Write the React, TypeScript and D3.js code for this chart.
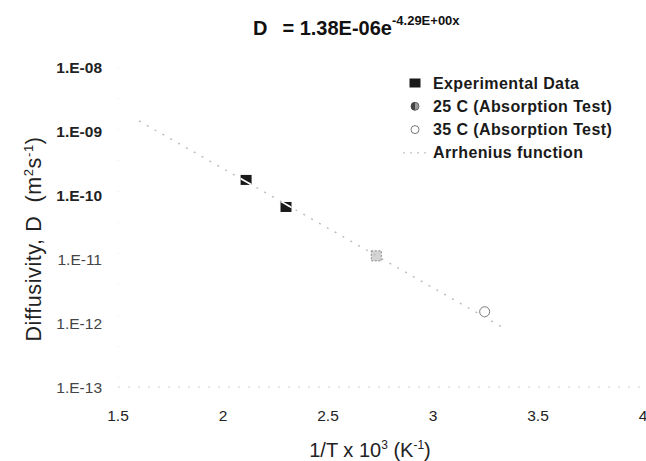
import React from 'react'
import * as d3 from 'd3'

// values
const experimentalX = [2.11, 2.3]
const experimentalD = [1.72e-10, 6.5e-11]
const absorption25X = [2.73]
const absorption25D = [1.12e-11]
const absorption35X = [3.246]
const absorption35D = [1.5e-12]
const arrheniusX = [1.6, 3.35]
const arrheniusD = [1.44e-9, 7.9e-13]

const xTicks = [1.5, 2, 2.5, 3, 3.5, 4]
const yTicks = [1e-8, 1e-9, 1e-10, 1e-11, 1e-12, 1e-13]
const yTickLabels = ['1.E-08', '1.E-09', '1.E-10', '1.E-11', '1.E-12', '1.E-13']
const legendLabels = ['Experimental Data', '25 C (Absorption Test)', '35 C (Absorption Test)', 'Arrhenius function']

const width = 646
const height = 461
const font = 'Arial, "Liberation Sans", sans-serif'

export default function App() {
  const xScale = d3.scaleLinear().domain([1.5, 4]).range([118, 643])
  const yScale = d3.scaleLog().domain([1e-13, 1e-8]).range([387, 67])

  const line = d3.line<[number, number]>()
    .x(d => xScale(d[0]))
    .y(d => yScale(d[1]))
  const arrhenius = arrheniusX.map((x, i) => [x, arrheniusD[i]] as [number, number])

  const legendX = 415
  const legendY = 83
  const legendStep = 23.3

  return (
    <svg width={width} height={height} style={{ position: 'absolute', left: 0, top: 0, background: '#fff' }}
      fontFamily={font}>
      {/* title */}
      <text x={253} y={35} fontSize={20} fontWeight='bold' fill='#111'>
        D<tspan dx={15}>= 1.38E-06e</tspan><tspan fontSize={13} dy={-10}>-4.29E+00x</tspan>
      </text>

      {/* faint axes */}
      <line x1={xScale(1.5)} x2={xScale(4)} y1={yScale(1e-13)} y2={yScale(1e-13)}
        stroke='#d0d0d0' strokeWidth={1} strokeDasharray='2,8' />
      <line x1={xScale(1.5)} x2={xScale(1.5)} y1={yScale(1e-8)} y2={yScale(1e-13)}
        stroke='#e6e6e6' strokeWidth={1} strokeDasharray='1,30' />

      {/* y ticks */}
      {yTicks.map((t, i) => (
        <text key={t} x={102} y={yScale(t) + 5.5} textAnchor='end' fontSize={15.5}
          fontWeight={i < 3 ? 'bold' : 'normal'} fill={i < 3 ? '#222' : '#444'}>
          {yTickLabels[i]}
        </text>
      ))}
      {/* x ticks */}
      {xTicks.map(t => (
        <text key={t} x={xScale(t)} y={420.5} textAnchor='middle' fontSize={15.5} fill='#222'>
          {t}
        </text>
      ))}

      {/* axis titles */}
      <text transform={`translate(41,${239}) rotate(-90)`} textAnchor='middle' fontSize={21.5} fill='#222'
        letterSpacing={0.6} style={{ whiteSpace: 'pre' }}>
        {'Diffusivity, D  (m'}<tspan fontSize={13} dy={-8}>2</tspan><tspan dy={8}>s</tspan><tspan fontSize={13} dy={-8}>-1</tspan><tspan dy={8}>)</tspan>
      </text>
      <text x={370} y={457} textAnchor='middle' fontSize={20} fill='#222'>
        1/T x 10<tspan fontSize={12} dy={-8}>3</tspan><tspan dy={8}> (K</tspan><tspan fontSize={12} dy={-8}>-1</tspan><tspan dy={8}>)</tspan>
      </text>

      {/* markers */}
      {experimentalX.map((x, i) => (
        <rect key={i} x={xScale(x) - 5.5} y={yScale(experimentalD[i]) - 5} width={11} height={10} fill='#1a1a1a' />
      ))}
      {absorption25X.map((x, i) => (
        <rect key={i} x={xScale(x) - 5} y={yScale(absorption25D[i]) - 5} width={10} height={10}
          fill='#d4d4d4' stroke='#8a8a8a' strokeWidth={1} strokeDasharray='2,1.5' />
      ))}
      {absorption35X.map((x, i) => (
        <circle key={i} cx={xScale(x)} cy={yScale(absorption35D[i])} r={5} fill='#fff' stroke='#777' strokeWidth={1} />
      ))}

      {/* Arrhenius fit */}
      <path d={line(arrhenius) ?? ''} fill='none' stroke='#bcbcbc' strokeWidth={1.4} strokeDasharray='2,7' />
      <defs>
        <clipPath id='markClip'>
          {experimentalX.map((x, i) => (
            <rect key={i} x={xScale(x) - 5.5} y={yScale(experimentalD[i]) - 5} width={11} height={10} />
          ))}
        </clipPath>
      </defs>
      <path d={line(arrhenius) ?? ''} fill='none' stroke='#fff' strokeWidth={1.6} clipPath='url(#markClip)' />

      {/* legend */}
      <g fontSize={16} fontWeight='bold' fill='#1a1a1a' letterSpacing={0.4}>
        <rect x={legendX - 5.5} y={legendY - 4.5} width={11} height={9} fill='#1a1a1a' />
        <circle cx={legendX} cy={legendY + legendStep} r={4} fill='#999' stroke='#666' />
        <path d={`M${legendX},${legendY + legendStep - 4} A4,4 0 0 0 ${legendX},${legendY + legendStep + 4} Z`} fill='#444' />
        <circle cx={legendX} cy={legendY + 2 * legendStep} r={4} fill='#fff' stroke='#777' />
        <line x1={legendX - 12} x2={legendX + 15} y1={legendY + 3 * legendStep} y2={legendY + 3 * legendStep}
          stroke='#c4c4c4' strokeWidth={1.2} strokeDasharray='2,5' />
        {legendLabels.map((l, i) => (
          <text key={l} x={433} y={legendY + i * legendStep + 5.5}>{l}</text>
        ))}
      </g>
    </svg>
  )
}
